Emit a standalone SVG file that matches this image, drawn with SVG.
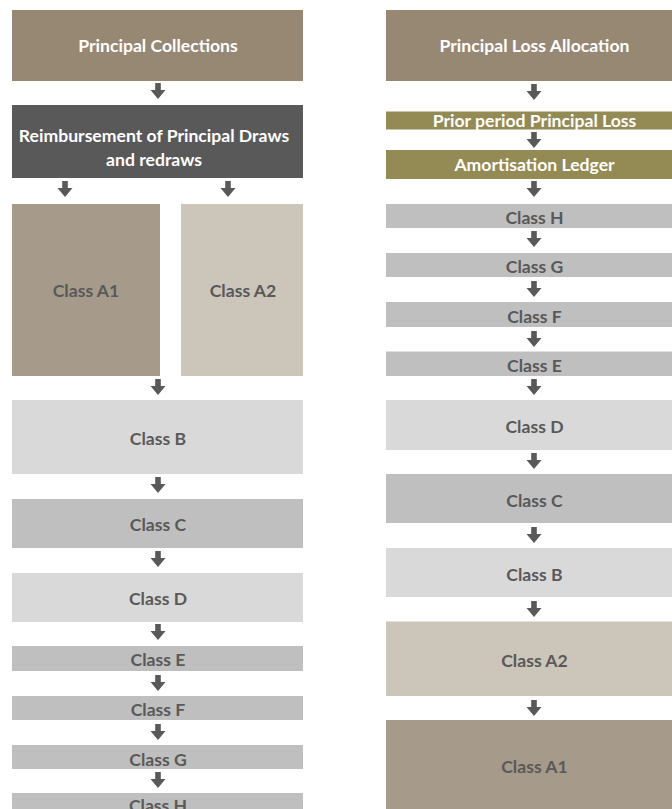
<svg xmlns="http://www.w3.org/2000/svg" xmlns:xlink="http://www.w3.org/1999/xlink" width="672" height="809" viewBox="0 0 672 809">
<defs>
<style>
text{font-family:Lato,"Open Sans","Liberation Sans",sans-serif;font-weight:bold;font-size:17.6px;text-anchor:middle}
.lt{fill:#ffffff}
.dk{fill:#595959}
.tan{fill:#978874}
.dg{fill:#595959}
.olive{fill:#948A54}
.a1{fill:#A69B8A}
.a2{fill:#CBC5BA}
.l1{fill:#D9D9D9}
.l2{fill:#BFBFBF}
.arr{fill:#595959}
</style>
<path id="arr" d="M-2.8,0 H2.8 V7 H7.5 L0,16 L-7.5,7 H-2.8 Z"/>
</defs>
<rect width="672" height="809" fill="#ffffff"/>

<!-- Left column -->
<g id="principal-collections"><rect class="tan" x="12" y="10" width="291" height="71"/><text class="lt" x="158" y="52">Principal Collections</text></g>
<g id="reimbursement"><rect class="dg" x="12" y="105" width="291" height="73"/><text class="lt" x="154" y="142">Reimbursement of Principal Draws</text><text class="lt" x="154" y="166">and redraws</text></g>
<g id="l-class-a1"><rect class="a1" x="12" y="204" width="148" height="172"/><text class="dk" x="86" y="297">Class A1</text></g>
<g id="l-class-a2"><rect class="a2" x="181" y="204" width="122" height="172"/><text class="dk" x="243" y="297">Class A2</text></g>
<g id="l-class-b"><rect class="l1" x="12" y="400" width="291" height="74"/><text class="dk" x="158" y="445">Class B</text></g>
<g id="l-class-c"><rect class="l2" x="12" y="499" width="291" height="49"/><text class="dk" x="158" y="530.5">Class C</text></g>
<g id="l-class-d"><rect class="l1" x="12" y="573" width="291" height="49"/><text class="dk" x="158" y="605">Class D</text></g>
<g id="l-class-e"><rect class="l2" x="12" y="646" width="291" height="25"/><text class="dk" x="158" y="666">Class E</text></g>
<g id="l-class-f"><rect class="l2" x="12" y="696" width="291" height="24"/><text class="dk" x="158" y="716">Class F</text></g>
<g id="l-class-g"><rect class="l2" x="12" y="745" width="291" height="24"/><text class="dk" x="158" y="766">Class G</text></g>
<g id="l-class-h"><rect class="l2" x="12" y="793" width="291" height="16"/><text class="dk" x="158" y="811.5">Class H</text></g>

<!-- Right column -->
<g id="principal-loss-allocation"><rect class="tan" x="386" y="10" width="286" height="71"/><text class="lt" x="534.5" y="52">Principal Loss Allocation</text></g>
<g id="prior-period"><rect class="olive" x="386" y="111.5" width="286" height="18"/><text class="lt" x="534.5" y="126.5">Prior period Principal Loss</text></g>
<g id="amortisation-ledger"><rect class="olive" x="386" y="150" width="286" height="29"/><text class="lt" x="534.5" y="170.5">Amortisation Ledger</text></g>
<g id="r-class-h"><rect class="l2" x="386" y="204" width="286" height="24"/><text class="dk" x="534.5" y="224">Class H</text></g>
<g id="r-class-g"><rect class="l2" x="386" y="253" width="286" height="24"/><text class="dk" x="534.5" y="273">Class G</text></g>
<g id="r-class-f"><rect class="l2" x="386" y="302" width="286" height="25"/><text class="dk" x="534.5" y="322.5">Class F</text></g>
<g id="r-class-e"><rect class="l2" x="386" y="351.5" width="286" height="24.5"/><text class="dk" x="534.5" y="371.5">Class E</text></g>
<g id="r-class-d"><rect class="l1" x="386" y="400" width="286" height="50"/><text class="dk" x="534.5" y="432.5">Class D</text></g>
<g id="r-class-c"><rect class="l2" x="386" y="474" width="286" height="49"/><text class="dk" x="534.5" y="506.5">Class C</text></g>
<g id="r-class-b"><rect class="l1" x="386" y="548" width="286" height="49"/><text class="dk" x="534.5" y="581">Class B</text></g>
<g id="r-class-a2"><rect class="a2" x="386" y="621.5" width="286" height="74.5"/><text class="dk" x="534.5" y="667">Class A2</text></g>
<g id="r-class-a1"><rect class="a1" x="386" y="720" width="286" height="89"/><text class="dk" x="534.5" y="772.5">Class A1</text></g>

<!-- Connectors -->
<g id="connectors" class="arr">
<use xlink:href="#arr" x="158" y="83"/>
<use xlink:href="#arr" x="65" y="181"/>
<use xlink:href="#arr" x="228" y="181"/>
<use xlink:href="#arr" x="158" y="379"/>
<use xlink:href="#arr" x="158" y="477"/>
<use xlink:href="#arr" x="158" y="551"/>
<use xlink:href="#arr" x="158" y="624"/>
<use xlink:href="#arr" x="158" y="675"/>
<use xlink:href="#arr" x="158" y="724"/>
<use xlink:href="#arr" x="158" y="772"/>
<use xlink:href="#arr" x="534" y="84"/>
<use xlink:href="#arr" x="534" y="132"/>
<use xlink:href="#arr" x="534" y="181"/>
<use xlink:href="#arr" x="534" y="231"/>
<use xlink:href="#arr" x="534" y="281"/>
<use xlink:href="#arr" x="534" y="331"/>
<use xlink:href="#arr" x="534" y="379"/>
<use xlink:href="#arr" x="534" y="453"/>
<use xlink:href="#arr" x="534" y="527"/>
<use xlink:href="#arr" x="534" y="601"/>
<use xlink:href="#arr" x="534" y="700"/>
</g>
</svg>
